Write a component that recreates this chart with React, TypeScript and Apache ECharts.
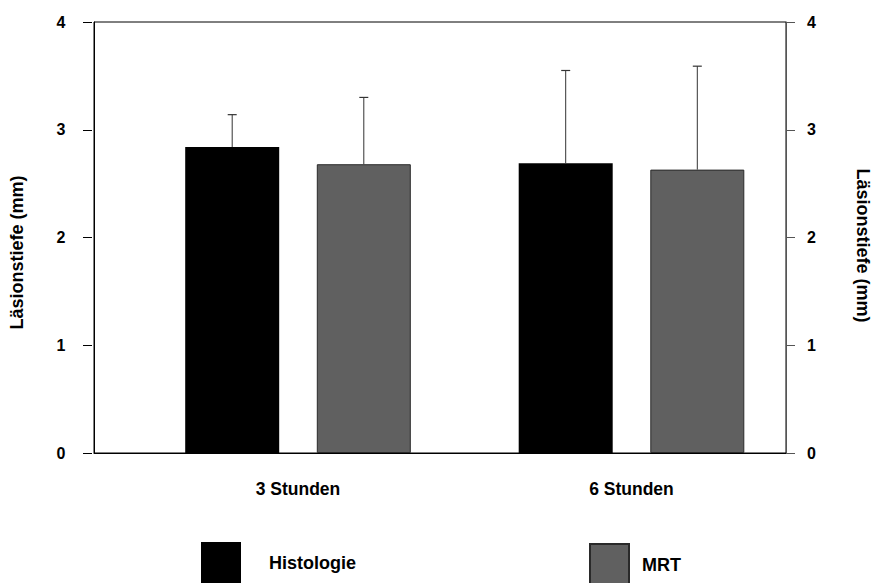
import React, { useEffect, useRef } from "react";
import * as echarts from "echarts";

const categories = ["3 Stunden", "6 Stunden"];
const seriesNames = ["Histologie", "MRT"];
const histologieMean = [2.84, 2.69];
const histologieUpper = [3.14, 3.55];
const mrtMean = [2.68, 2.63];
const mrtUpper = [3.3, 3.59];
const yTicks = [0, 1, 2, 3, 4];
const axisName = "Läsionstiefe (mm)";

const FONT = "'Liberation Sans', Arial, sans-serif";
const BAR_W = 94;
const BAR_GAP = 0.4;
const DIVIDER = 52.08; // percent of frame width

export default function App() {
  const ref = useRef<HTMLDivElement>(null);
  useEffect(() => {
    if (!ref.current) return;
    const chart = echarts.init(ref.current, null, { renderer: "svg" });
    const yMin = yTicks[0];
    const yMax = yTicks[yTicks.length - 1];
    const errData = (means: number[], uppers: number[]) =>
      means.map((m, i) => [i, m, uppers[i]]);
    const makeErr = (side: number) => (params: any, api: any) => {
      const idx = api.value(0);
      const mean = api.value(1);
      const up = api.value(2);
      const off = (side * BAR_W * (1 + BAR_GAP)) / 2;
      const p0 = api.coord([idx, mean]);
      const p1 = api.coord([idx, up]);
      const x = p0[0] + off;
      return {
        type: "group",
        children: [
          {
            type: "line",
            shape: { x1: x, y1: p0[1], x2: x, y2: p1[1] },
            style: { stroke: "#333", lineWidth: 1 },
          },
          {
            type: "line",
            shape: { x1: x - 4.5, y1: p1[1], x2: x + 4.5, y2: p1[1] },
            style: { stroke: "#333", lineWidth: 1.2 },
          },
        ],
      };
    };
    const labelStyle = {
      color: "#000",
      fontFamily: FONT,
      fontWeight: "bold" as const,
      fontSize: 16,
    };
    chart.setOption({
      animation: false,
      backgroundColor: "#fff",
      grid: [
        {
          left: 93.5,
          right: 88.5,
          top: 22,
          bottom: 130,
          show: true,
          borderColor: "#000",
          borderWidth: 1,
          backgroundColor: "transparent",
        },
        { left: 131.25, right: 81.75, top: 22, bottom: 130 },
      ],
      xAxis: [
        {
          type: "value",
          gridIndex: 0,
          min: 0,
          max: 100,
          axisLine: { show: true, lineStyle: { color: "#000", width: 1 } },
          axisTick: { show: false },
          axisLabel: { show: false },
          splitLine: { show: false },
        },
        {
          type: "category",
          gridIndex: 1,
          data: categories,
          axisLine: { show: false },
          axisTick: { show: false },
          axisLabel: { ...labelStyle, fontSize: 17.5, margin: 27 },
        },
      ],
      yAxis: [
        {
          type: "value",
          gridIndex: 0,
          position: "left",
          min: yMin,
          max: yMax,
          interval: 1,
          axisLine: { show: true, lineStyle: { color: "#000" } },
          axisTick: { show: false },
          axisLabel: { show: false },
          splitLine: { show: false },
          name: axisName,
          nameLocation: "middle",
          nameRotate: 90,
          nameGap: 68,
          nameTextStyle: { ...labelStyle, fontSize: 18, padding: [0, 30, 0, 0] },
        },
        {
          type: "value",
          gridIndex: 0,
          position: "left",
          offset: 2,
          min: yMin,
          max: yMax,
          interval: 1,
          axisLine: { show: false },
          axisTick: { show: true, length: 9, lineStyle: { color: "#000" } },
          axisLabel: { ...labelStyle, margin: 26.5 },
          splitLine: { show: false },
        },
        {
          type: "value",
          gridIndex: 0,
          position: "right",
          min: yMin,
          max: yMax,
          interval: 1,
          axisLine: { show: true, lineStyle: { color: "#555" } },
          axisTick: { show: true, length: 9, lineStyle: { color: "#555" } },
          axisLabel: { ...labelStyle, margin: 21 },
          splitLine: { show: false },
          name: axisName,
          nameLocation: "middle",
          nameRotate: -90,
          nameGap: 68,
          nameTextStyle: { ...labelStyle, fontSize: 18, padding: [0, 0, 0, 16] },
        },
        {
          type: "value",
          gridIndex: 1,
          min: yMin,
          max: yMax,
          show: false,
        },
      ],
      legend: [
        {
          data: [seriesNames[0]],
          left: 201,
          top: 542,
          padding: 0,
          icon: "rect",
          itemWidth: 40,
          itemHeight: 42,
          textStyle: { ...labelStyle, fontSize: 18, padding: [0, 0, 0, 23] },
        },
        {
          data: [seriesNames[1]],
          left: 589,
          top: 543,
          padding: 0,
          icon: "rect",
          itemWidth: 39,
          itemHeight: 41,
          textStyle: { ...labelStyle, fontSize: 18, padding: [0, 0, 0, 8] },
        },
      ],
      series: [
        {
          type: "line",
          xAxisIndex: 0,
          yAxisIndex: 0,
          data: [[DIVIDER, 0]],
          showSymbol: false,
          symbol: "none",
          lineStyle: { width: 0 },
          silent: true,
          markLine: {
            silent: true,
            symbol: ["none", "none"],
            label: { show: false },
            lineStyle: { color: "#000", width: 1, type: "solid" },
            data: [[{ coord: [DIVIDER, -0.03] }, { coord: [DIVIDER, yMax] }]],
          },
        },
        {
          name: seriesNames[0],
          type: "bar",
          xAxisIndex: 1,
          yAxisIndex: 3,
          data: histologieMean,
          barWidth: BAR_W,
          barGap: BAR_GAP * 100 + "%",
          itemStyle: { color: "#000" },
        },
        {
          name: seriesNames[1],
          type: "bar",
          xAxisIndex: 1,
          yAxisIndex: 3,
          data: mrtMean,
          barWidth: BAR_W,
          barGap: BAR_GAP * 100 + "%",
          itemStyle: { color: "#606060", borderColor: "#2a2a2a", borderWidth: 1 },
        },
        {
          type: "custom",
          xAxisIndex: 1,
          yAxisIndex: 3,
          data: errData(histologieMean, histologieUpper),
          renderItem: makeErr(-1),
          silent: true,
          z: 3,
        },
        {
          type: "custom",
          xAxisIndex: 1,
          yAxisIndex: 3,
          data: errData(mrtMean, mrtUpper),
          renderItem: makeErr(1),
          silent: true,
          z: 3,
        },
      ],
    });
    return () => chart.dispose();
  }, []);
  return (
    <div
      ref={ref}
      style={{ position: "absolute", left: 0, top: 0, width: 880, height: 583 }}
    />
  );
}
